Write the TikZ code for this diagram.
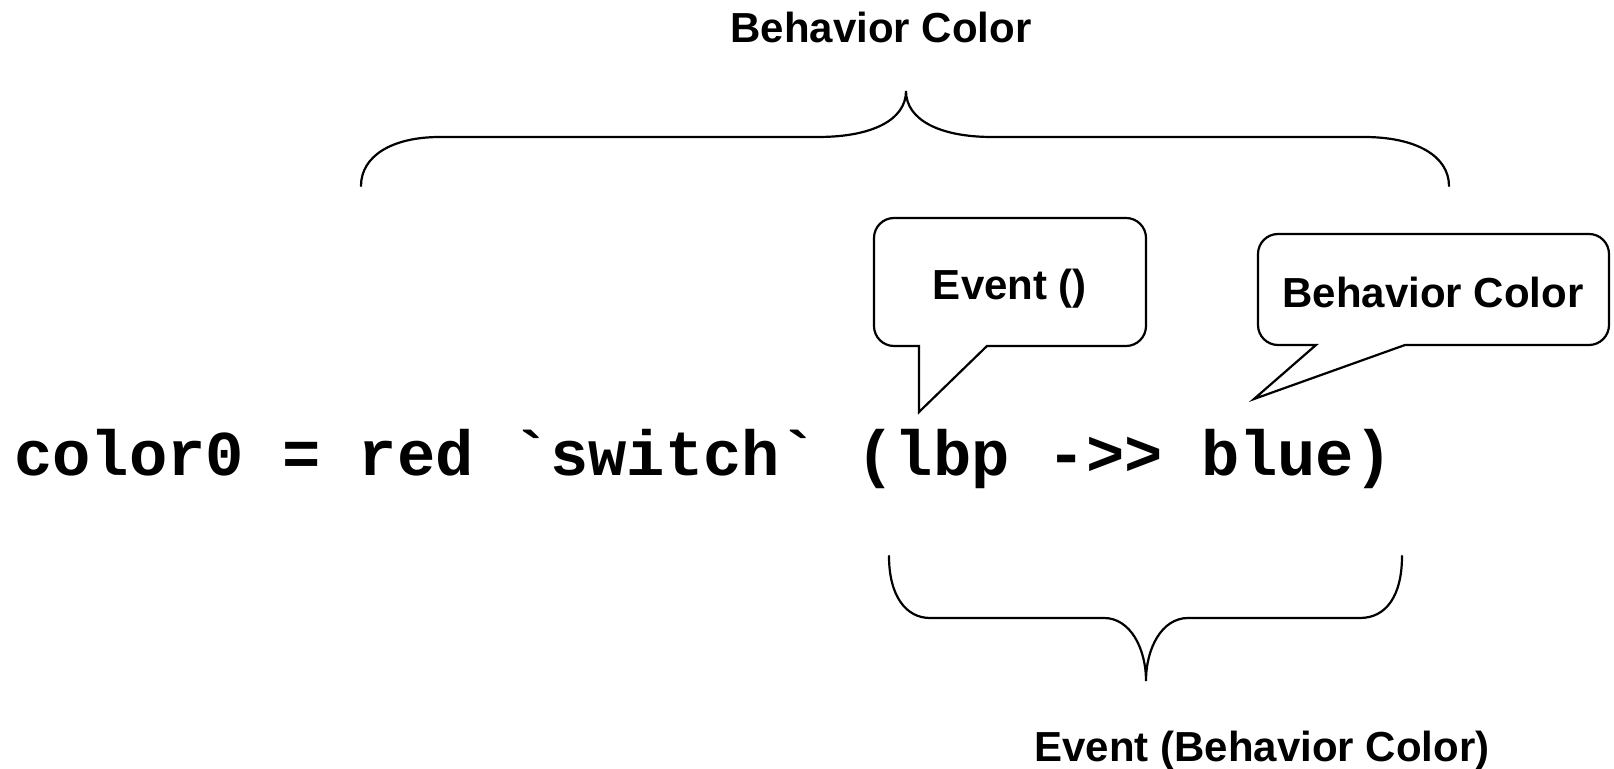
\documentclass[tikz,border=0pt]{standalone}
\usepackage{fontspec}
\setmainfont{Liberation Sans}
\newfontfamily\codefont{Liberation Mono}
\tikzset{
  lbl/.style={font=\fontsize{21}{25}\selectfont\bfseries, inner sep=0pt, anchor=base},
  codetxt/.style={font=\fontsize{31.9}{36}\selectfont\codefont\bfseries, inner sep=0pt, anchor=base west},
  brace/.style={line width=1.1pt, line cap=round},
  callout/.style={line width=1.1pt, line join=miter}
}
\begin{document}
\begin{tikzpicture}[x=0.5pt,y=-0.5pt]
\useasboundingbox (0,0) rectangle (1614,769);
% texts
\node[lbl] (title) at (881,43) {Behavior Color};
\node[codetxt] (code) at (14,475.5) {color0 = red `switch` (lbp ->> blue)};
\node[lbl] (evtxt) at (1010,300) {Event ()};
\node[lbl] (behtxt) at (1433,308) {Behavior Color};
\node[lbl] (bottom) at (1262,762) {Event (Behavior Color)};
% top brace
\draw[brace] (361,186) .. controls (361,156) and (392,137) .. (440,137)
  -- (818,137) .. controls (872,137) and (906,120) .. (906,91)
  .. controls (906,120) and (940,137) .. (992,137)
  -- (1364,137) .. controls (1416,137) and (1449,156) .. (1449,186);
% bottom brace
\draw[brace] (889,556) .. controls (889,596) and (906,618) .. (930,618)
  -- (1104,618) .. controls (1130,618) and (1146,648) .. (1146,681)
  .. controls (1146,648) and (1162,618) .. (1188,618)
  -- (1360,618) .. controls (1386,618) and (1402,596) .. (1402,556);
% callout: Event ()
\draw[callout] (919,412) -- (987,346) [rounded corners=10pt] -- (1146,346) -- (1146,218) -- (874,218) -- (874,346) [sharp corners] -- (919,346) -- cycle;
% callout: Behavior Color
\draw[callout] (1254,399) -- (1405,345) [rounded corners=10pt] -- (1609,345) -- (1609,234) -- (1258,234) -- (1258,345) [sharp corners] -- (1316,345) -- cycle;
\end{tikzpicture}
\end{document}
